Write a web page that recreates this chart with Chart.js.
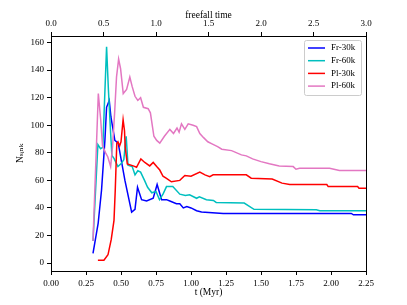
<!DOCTYPE html>
<html>
<head>
<meta charset="utf-8">
<script src="https://cdn.jsdelivr.net/npm/chart.js@4.4.1/dist/chart.umd.min.js"></script>
<style>
  body { margin: 0; background: #fff; }
  canvas { display: block; }
</style>
</head>
<body>
<canvas id="chart" width="407" height="305"></canvas>
<script>
// tick labels
const xTicks = [0, 0.25, 0.5, 0.75, 1, 1.25, 1.5, 1.75, 2, 2.25];
const topTicks = [0, 0.5, 1, 1.5, 2, 2.5, 3];
const yTicks = [0, 20, 40, 60, 80, 100, 120, 140, 160];

// Fr-30k
const tFr30 = [0.30, 0.337, 0.361, 0.385, 0.397, 0.416, 0.428, 0.456, 0.48, 0.528, 0.576, 0.60, 0.618, 0.647, 0.683, 0.73, 0.758, 0.79, 0.825, 0.849, 0.896, 0.92, 0.945, 0.97, 1.0, 1.04, 1.075, 1.23, 2.145, 2.16, 2.25];
const nFr30 = [7, 29, 53, 89, 113, 118, 106, 89, 87, 60, 37, 39, 55, 46, 45, 47, 57, 46, 46, 45, 43, 43, 40, 41, 40, 38, 37, 36, 36, 35, 35];

// Fr-60k
const tFr60 = [0.30, 0.335, 0.354, 0.37, 0.397, 0.41, 0.426, 0.435, 0.45, 0.478, 0.50, 0.52, 0.537, 0.55, 0.58, 0.60, 0.62, 0.64, 0.668, 0.69, 0.72, 0.75, 0.775, 0.80, 0.825, 0.87, 0.92, 0.96, 0.99, 1.04, 1.06, 1.11, 1.16, 1.18, 1.38, 1.45, 1.895, 1.92, 2.25];
const nFr60 = [16, 86, 83, 84, 157, 126, 94, 78, 76, 70, 72, 75, 92, 71, 70, 64, 67, 66, 60, 55, 51, 52, 46, 50, 55.5, 55.5, 50, 49, 49.5, 47, 48, 46, 45.4, 44, 43.5, 39, 38.6, 38, 38];

// Pl-30k
const tPl30 = [0.335, 0.378, 0.407, 0.43, 0.45, 0.459, 0.47, 0.478, 0.49, 0.50, 0.515, 0.525, 0.53, 0.545, 0.587, 0.611, 0.642, 0.67, 0.705, 0.73, 0.755, 0.777, 0.80, 0.825, 0.86, 0.92, 0.956, 1.0, 1.063, 1.1, 1.134, 1.158, 1.395, 1.43, 1.58, 1.65, 1.705, 1.97, 1.98, 2.19, 2.20, 2.25];
const nPl30 = [2, 2, 6, 17, 31, 53, 87, 88, 85, 88, 104, 96, 84, 72, 70.5, 69.5, 75.5, 73, 70.5, 73, 70, 67.5, 63, 61.5, 59, 60, 63.5, 63, 66, 64, 62.7, 64, 64, 61.6, 61, 58, 57, 57, 55.5, 55.5, 54.3, 54.3];

// Pl-60k
const tPl60 = [0.30, 0.338, 0.355, 0.368, 0.39, 0.406, 0.426, 0.44, 0.455, 0.468, 0.483, 0.497, 0.516, 0.54, 0.563, 0.58, 0.60, 0.62, 0.64, 0.66, 0.694, 0.71, 0.735, 0.755, 0.777, 0.81, 0.849, 0.875, 0.9, 0.915, 0.932, 0.956, 0.98, 1.015, 1.04, 1.063, 1.09, 1.12, 1.15, 1.19, 1.22, 1.29, 1.36, 1.395, 1.44, 1.50, 1.56, 1.63, 1.73, 1.75, 1.775, 1.99, 2.06, 2.25];
const nPl60 = [16, 123, 104, 85, 80, 77, 70, 85, 110, 135, 148, 141, 123, 126, 135, 128, 121, 118, 120, 113, 112, 109, 92, 89, 87, 92, 97, 94, 98, 95, 101, 97, 101, 100, 99, 94, 91, 88, 86.5, 84.5, 82.6, 81.6, 78.5, 77.8, 75.6, 73.6, 72, 70.5, 70, 68.1, 68.8, 68.8, 67.1, 67.1];

const serif = '"Liberation Serif", "DejaVu Serif", serif';

function pts(ts, ns) {
    return ts.map((t, i) => ({ x: t, y: ns[i] }));
}

function series(label, ts, ns, color, order) {
    return {
        label: label,
        data: pts(ts, ns),
        borderColor: color,
        backgroundColor: color,
        borderWidth: 1.5,
        pointRadius: 0,
        tension: 0,
        fill: false,
        order: order
    };
}

const framePlugin = {
    id: 'frame',
    afterDatasetsDraw(chart) {
        const { ctx, chartArea: a } = chart;
        ctx.save();
        ctx.strokeStyle = '#000';
        ctx.lineWidth = 1;
        ctx.strokeRect(a.left + 0.5, a.top + 0.5, a.right - a.left, a.bottom - a.top);
        ctx.restore();
    }
};

const legendPlugin = {
    id: 'boxLegend',
    afterDraw(chart) {
        const { ctx, chartArea: a } = chart;
        const x0 = a.right - 62, y0 = a.top + 4, w = 57, h = 55;
        ctx.save();
        ctx.fillStyle = 'rgba(255,255,255,0.8)';
        ctx.strokeStyle = '#cccccc';
        ctx.lineWidth = 1;
        ctx.beginPath();
        ctx.roundRect(x0 + 0.5, y0 + 0.5, w, h, 2);
        ctx.fill();
        ctx.stroke();
        ctx.font = '9px ' + serif;
        ctx.textBaseline = 'middle';
        chart.data.datasets.forEach((ds, i) => {
            const y = y0 + 8 + i * 12.7;
            ctx.strokeStyle = ds.borderColor;
            ctx.lineWidth = 1.5;
            ctx.beginPath();
            ctx.moveTo(x0 + 4, y);
            ctx.lineTo(x0 + 21, y);
            ctx.stroke();
            ctx.fillStyle = '#000';
            ctx.fillText(ds.label, x0 + 27, y);
        });
        ctx.restore();
    }
};

const tickGrid = {
    drawOnChartArea: false,
    drawTicks: true,
    tickLength: 4,
    tickColor: '#000',
    tickWidth: 1
};

new Chart(document.getElementById('chart'), {
    type: 'line',
    data: {
        datasets: [
            series('Fr-30k', tFr30, nFr30, '#0000ff', 4),
            series('Fr-60k', tFr60, nFr60, '#00bfbf', 3),
            series('Pl-30k', tPl30, nPl30, '#ff0000', 2),
            series('Pl-60k', tPl60, nPl60, '#e377c2', 1)
        ]
    },
    options: {
        responsive: false,
        animation: false,
        layout: { padding: { left: 0, right: 41, top: 0, bottom: 0 } },
        plugins: {
            legend: { display: false },
            tooltip: { enabled: false }
        },
        scales: {
            x: {
                type: 'linear',
                position: 'bottom',
                min: 0,
                max: 2.25,
                afterBuildTicks: s => { s.ticks = xTicks.map(v => ({ value: v })); },
                afterFit: s => { s.height = 34; },
                ticks: {
                    autoSkip: false,
                    maxRotation: 0,
                    padding: 3,
                    color: '#000',
                    font: { family: serif, size: 9 },
                    callback: v => v.toFixed(2)
                },
                grid: tickGrid,
                border: { display: false },
                title: {
                    display: true,
                    text: 't (Myr)',
                    color: '#000',
                    font: { family: serif, size: 9.5 },
                    padding: { top: 0, bottom: 7 }
                }
            },
            x2: {
                type: 'linear',
                position: 'top',
                min: 0,
                max: 3,
                afterBuildTicks: s => { s.ticks = topTicks.map(v => ({ value: v })); },
                afterFit: s => { s.height = 36; },
                ticks: {
                    autoSkip: false,
                    maxRotation: 0,
                    padding: 3,
                    color: '#000',
                    font: { family: serif, size: 9 },
                    callback: v => v.toFixed(1)
                },
                grid: tickGrid,
                border: { display: false },
                title: {
                    display: true,
                    text: 'freefall time',
                    color: '#000',
                    font: { family: serif, size: 9.5 },
                    padding: { top: 10, bottom: 0 }
                }
            },
            y: {
                type: 'linear',
                position: 'left',
                min: -5.75,
                max: 164.75,
                afterBuildTicks: s => { s.ticks = yTicks.map(v => ({ value: v })); },
                afterFit: s => { s.width = 51; },
                ticks: {
                    autoSkip: false,
                    padding: 3,
                    color: '#000',
                    font: { family: serif, size: 9 }
                },
                grid: tickGrid,
                border: { display: false },
                title: {
                    display: true,
                    text: 'Nₛᵢₙₖ',
                    color: '#000',
                    font: { family: serif, size: 9.5 },
                    padding: { top: 15, bottom: 0 }
                }
            }
        }
    },
    plugins: [framePlugin, legendPlugin]
});
</script>
</body>
</html>
